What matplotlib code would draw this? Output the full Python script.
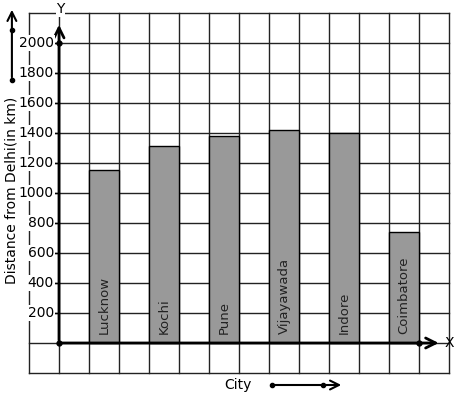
import matplotlib
matplotlib.use("Agg")
import matplotlib.pyplot as plt
import numpy as np

cities = ["Lucknow", "Kochi", "Pune", "Vijayawada", "Indore", "Coimbatore"]
distances = [1150, 1310, 1380, 1420, 1400, 740]
yticks = [200, 400, 600, 800, 1000, 1200, 1400, 1600, 1800, 2000]

fig = plt.figure(figsize=(4.57, 3.99), dpi=100)
ax = fig.add_axes([29 / 457, 26 / 399, 420 / 457, 360 / 399])
ax.set_xlim(-1, 13)
ax.set_ylim(-200, 2200)
for s in ax.spines.values():
    s.set_visible(False)
ax.set_xticks([])
ax.set_yticks([])

# square grid
for gx in range(-1, 14):
    ax.plot([gx, gx], [-200, 2200], color="#222222", lw=1, zorder=1, clip_on=False)
for gy in range(-200, 2201, 200):
    ax.plot([-1, 13], [gy, gy], color="#222222", lw=1, zorder=1, clip_on=False)

# bars (each bar 1 unit wide)
xpos = np.arange(len(cities)) * 2 + 1.5
ax.bar(xpos, distances, width=1, color="#999999", edgecolor="black", lw=1, zorder=2)
for x, name in zip(xpos, cities):
    ax.text(x, 60, name, rotation=90, ha="center", va="bottom", fontsize=9.5,
            color="#222222", zorder=3)

# axes with arrows
ax.annotate("", xy=(12.75, 0), xytext=(0, 0),
            arrowprops=dict(arrowstyle="->", lw=2, color="black", mutation_scale=18),
            zorder=4, annotation_clip=False)
ax.annotate("", xy=(0, 2140), xytext=(0, 0),
            arrowprops=dict(arrowstyle="->", lw=2, color="black", mutation_scale=18),
            zorder=4, annotation_clip=False)
ax.plot([0, 0, 12], [0, 2000, 0], "o", color="black", ms=3.5, zorder=5)
ax.text(12.85, 0, "X", ha="left", va="center", fontsize=10)
ax.text(0.05, 2225, "Y", ha="center", va="center", fontsize=10, clip_on=False,
        zorder=6, bbox=dict(facecolor="white", edgecolor="none", pad=0.3))

for t in yticks:
    ax.plot([-0.15, 0], [t, t], color="black", lw=1, zorder=4)
    ax.text(-0.17, t, str(t), ha="right", va="center", fontsize=10, zorder=4,
            bbox=dict(facecolor="white", edgecolor="none", pad=0.5))

# axis titles
ax.text(-1.57, 1020, "Distance from Delhi(in km)", rotation=90, ha="center",
        va="center", fontsize=10)
ax.text(5.97, -280, "City", ha="center", va="center", fontsize=10)

# decorative direction arrows
ax.annotate("", xy=(9.5, -280), xytext=(7.1, -280),
            arrowprops=dict(arrowstyle="->", lw=1.5, color="black", mutation_scale=16),
            annotation_clip=False)
ax.plot([7.1, 8.8], [-280, -280], "o", color="black", ms=3, clip_on=False)
ax.annotate("", xy=(-1.57, 2240), xytext=(-1.57, 1753),
            arrowprops=dict(arrowstyle="->", lw=1.5, color="black", mutation_scale=16),
            annotation_clip=False)
ax.plot([-1.57, -1.57], [2087, 1753], "o", color="black", ms=3, clip_on=False)

fig.savefig("out.png", dpi=100)
